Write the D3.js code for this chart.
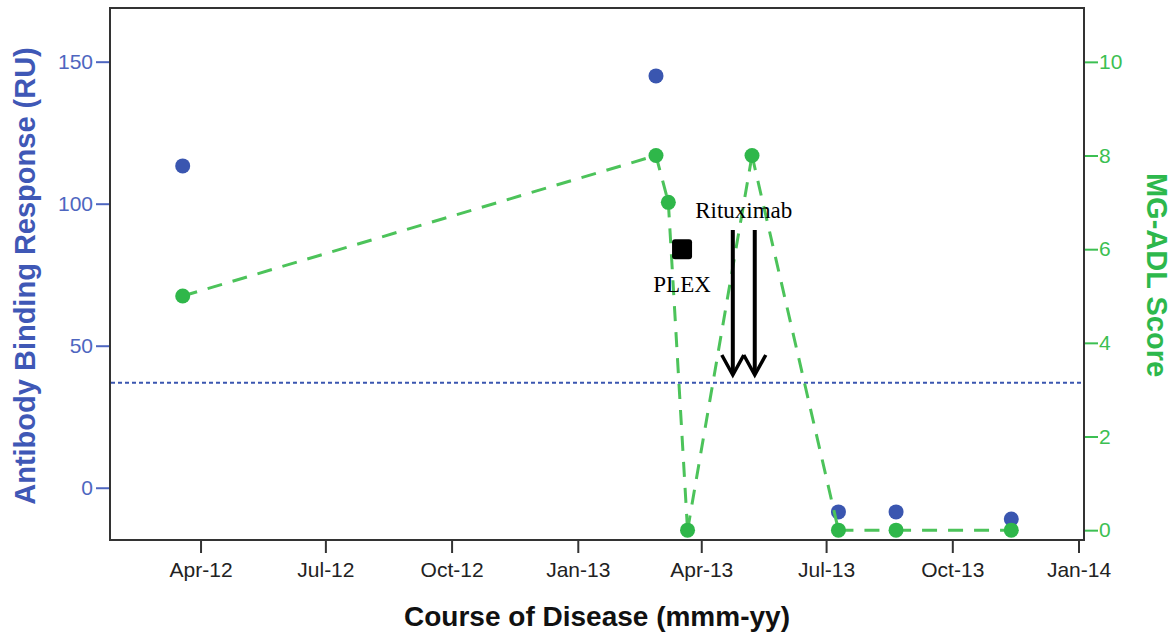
<!DOCTYPE html>
<html>
<head>
<meta charset="utf-8">
<script src="https://cdn.jsdelivr.net/npm/d3@7"></script>
<style>
  body { margin: 0; background: #fff; }
  svg { display: block; font-family: "Liberation Sans", Arial, sans-serif; }
</style>
</head>
<body>
<div id="chart"></div>
<script>
// antibody binding response (left axis)
const abDates = ["2012-03-19", "2013-02-27", "2013-07-10", "2013-08-21", "2013-11-13"];
const abValues = [113.3, 145, -8.5, -8.5, -11];
const abCutoff = 37;

// MG-ADL score (right axis)
const mgDates = ["2012-03-19", "2013-02-27", "2013-03-08", "2013-03-22", "2013-05-08", "2013-07-10", "2013-08-21", "2013-11-13"];
const mgValues = [5, 8, 7, 0, 8, 0, 0, 0];

// treatments
const plexDate = "2013-03-18";
const plexScore = 6;
const rituxDates = ["2013-04-24", "2013-05-10"];
const rituxFrom = 90.7, rituxTo = 39.7; // on the antibody axis

const xTicks = ["2012-04-01", "2012-07-01", "2012-10-01", "2013-01-01", "2013-04-01", "2013-07-01", "2013-10-01", "2014-01-01"];
const leftTicks = [0, 50, 100, 150];
const rightTicks = [0, 2, 4, 6, 8, 10];

const parse = d3.utcParse("%Y-%m-%d");
const W = 1174, H = 636;
const plot = {left: 110, right: 1084, top: 8, bottom: 540};

const blue = "#3a56b0", blueText = "#4e66c0";
const green = "#2fb74a", greenLine = "#4cc35a", greenText = "#3cbf52";

const svg = d3.select("#chart").append("svg")
  .attr("width", W).attr("height", H);

const x = d3.scaleUtc()
  .domain([parse("2012-01-26"), parse("2014-01-05")])
  .range([plot.left, plot.right]);
const yL = d3.scaleLinear().domain([-18.4, 168.9]).range([plot.bottom, plot.top]);
const yR = d3.scaleLinear().domain([-0.21, 11.15]).range([plot.bottom, plot.top]);

// axes
const gx = svg.append("g")
  .attr("transform", `translate(0,${plot.bottom})`)
  .call(d3.axisBottom(x).tickValues(xTicks.map(parse)).tickFormat(d3.utcFormat("%b-%y")).tickSize(13).tickPadding(9));
gx.selectAll("text").attr("font-size", 21).attr("fill", "#222");
gx.selectAll("line").attr("stroke", "#333").attr("stroke-width", 2);

const gl = svg.append("g")
  .attr("transform", `translate(${plot.left},0)`)
  .call(d3.axisLeft(yL).tickValues(leftTicks).tickSize(14).tickPadding(3));
gl.selectAll("text").attr("font-size", 21).attr("fill", blueText);
gl.selectAll("line").attr("stroke", blueText).attr("stroke-width", 2);

const gr = svg.append("g")
  .attr("transform", `translate(${plot.right},0)`)
  .call(d3.axisRight(yR).tickValues(rightTicks).tickSize(14).tickPadding(1));
gr.selectAll("text").attr("font-size", 21).attr("fill", greenText);
gr.selectAll("line").attr("stroke", greenText).attr("stroke-width", 2);

svg.selectAll(".domain").remove();

// frame
svg.append("rect")
  .attr("x", plot.left).attr("y", plot.top)
  .attr("width", plot.right - plot.left).attr("height", plot.bottom - plot.top)
  .attr("fill", "none").attr("stroke", "#333").attr("stroke-width", 2);

// cutoff line
svg.append("line")
  .attr("x1", plot.left + 1).attr("x2", plot.right - 1)
  .attr("y1", yL(abCutoff)).attr("y2", yL(abCutoff))
  .attr("stroke", blue).attr("stroke-width", 2).attr("stroke-dasharray", "4,3");

// blue points
svg.append("g").selectAll("circle")
  .data(abDates.map((d, i) => ({date: parse(d), value: abValues[i]})))
  .enter().append("circle")
  .attr("cx", d => x(d.date))
  .attr("cy", d => yL(d.value))
  .attr("r", 7.5)
  .attr("fill", blue);

// green dashed segments, dash restarts at each point
const mg = mgDates.map((d, i) => ({date: parse(d), value: mgValues[i]}));
svg.append("g").selectAll("line")
  .data(d3.pairs(mg))
  .enter().append("line")
  .attr("x1", d => x(d[0].date)).attr("y1", d => yR(d[0].value))
  .attr("x2", d => x(d[1].date)).attr("y2", d => yR(d[1].value))
  .attr("stroke", greenLine).attr("stroke-width", 3)
  .attr("stroke-dasharray", "15,11");

svg.append("g").selectAll("circle")
  .data(mg)
  .enter().append("circle")
  .attr("cx", d => x(d.date))
  .attr("cy", d => yR(d.value))
  .attr("r", 7.5)
  .attr("fill", green);

// PLEX marker
const px = x(parse(plexDate)), py = yR(plexScore);
svg.append("rect")
  .attr("x", px - 10).attr("y", py - 10)
  .attr("width", 20).attr("height", 20).attr("rx", 3)
  .attr("fill", "#000");
svg.append("text")
  .attr("x", px).attr("y", py + 43)
  .attr("text-anchor", "middle")
  .attr("font-family", "'Liberation Serif', 'Times New Roman', serif")
  .attr("font-size", 23)
  .text("PLEX");

// Rituximab arrows
const rx = rituxDates.map(d => x(parse(d)));
svg.append("text")
  .attr("x", d3.mean(rx)).attr("y", yL(rituxFrom) - 12)
  .attr("text-anchor", "middle")
  .attr("font-family", "'Liberation Serif', 'Times New Roman', serif")
  .attr("font-size", 23)
  .text("Rituximab");
const arrows = svg.append("g").selectAll("g")
  .data(rx)
  .enter().append("g");
arrows.append("line")
  .attr("x1", d => d).attr("x2", d => d)
  .attr("y1", yL(rituxFrom)).attr("y2", yL(rituxTo) - 2)
  .attr("stroke", "#000").attr("stroke-width", 4);
arrows.append("path")
  .attr("d", d => `M${d - 11},${yL(rituxTo) - 20}L${d},${yL(rituxTo)}L${d + 11},${yL(rituxTo) - 20}`)
  .attr("fill", "none").attr("stroke", "#000").attr("stroke-width", 3.5);

// axis titles
svg.append("text")
  .attr("transform", `translate(35,276) rotate(-90)`)
  .attr("text-anchor", "middle")
  .attr("font-size", 29).attr("font-weight", "bold")
  .attr("fill", "#3f58b6")
  .text("Antibody Binding Response (RU)");

svg.append("text")
  .attr("transform", `translate(1147,275) rotate(90)`)
  .attr("text-anchor", "middle")
  .attr("font-size", 29).attr("font-weight", "bold")
  .attr("fill", "#2db84c")
  .text("MG-ADL Score");

svg.append("text")
  .attr("x", 597).attr("y", 626)
  .attr("text-anchor", "middle")
  .attr("font-size", 28).attr("font-weight", "bold")
  .attr("fill", "#111")
  .text("Course of Disease (mmm-yy)");
</script>
</body>
</html>
